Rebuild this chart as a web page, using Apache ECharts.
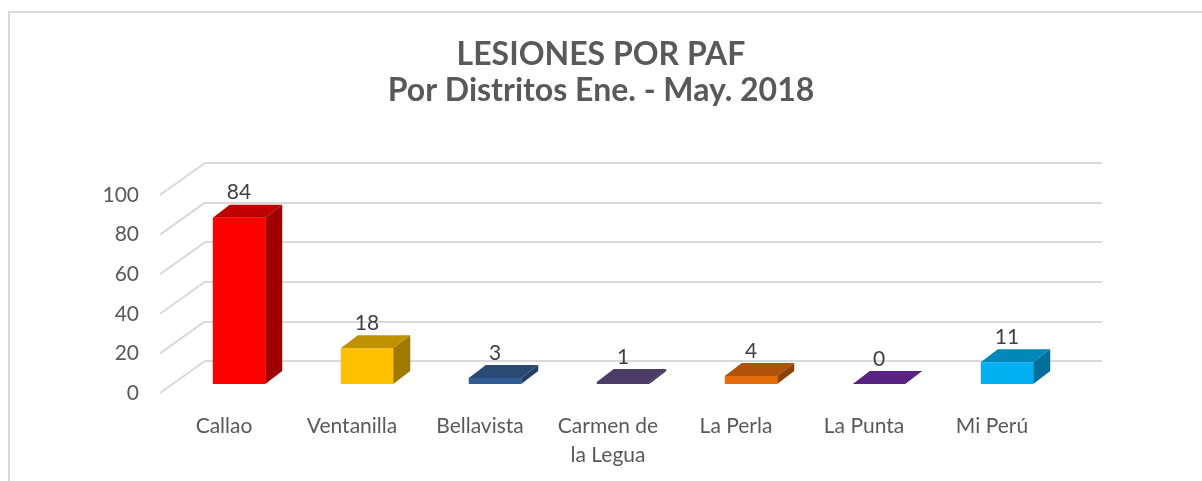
<!DOCTYPE html>
<html>
<head>
<meta charset="utf-8">
<script src="https://cdn.jsdelivr.net/npm/echarts@6/dist/echarts.min.js"></script>
<style>
  html, body { margin: 0; padding: 0; background: #fff; }
  #chart { width: 1202px; height: 481px; }
</style>
</head>
<body>
<div id="chart"></div>
<script>
// datos
const categories = ['Callao', 'Ventanilla', 'Bellavista', 'Carmen de\nla Legua', 'La Perla', 'La Punta', 'Mi Perú']
const values = [84, 18, 3, 1, 4, 0, 11]
const yTicks = [0, 20, 40, 60, 80, 100]

// colores por barra: frente, tapa, lado
const frontColors = ['#ff0000', '#ffc000', '#2f5d94', '#4b3b67', '#e46c0a', '#5a2382', '#00b0f0']
const topColors = ['#c00000', '#c09100', '#2a4a73', '#4b3b67', '#b05207', '#5a2382', '#0088ba']
const sideColors = ['#a00000', '#a07a00', '#243f63', '#3c2f53', '#8e4205', '#48196a', '#00709a']

// profundidad de la barra (perspectiva)
const DX = 17
const DY = 13
// profundidad del piso
const FX = 45
const FY = 32

const chart = echarts.init(document.getElementById('chart'))

const font = 'Lato, "Open Sans", sans-serif'

// cubo 3D para cada barra
const renderBar = (params, api) => {
  const i = api.value(0)
  const v = api.value(1)
  const top = api.coord([i, v])
  const base = api.coord([i, 0])
  const w = api.size([1, 0])[0] * 0.41
  const x0 = top[0] - w / 2
  const x1 = top[0] + w / 2
  const yt = top[1]
  const yb = base[1]
  return {
    type: 'group',
    children: [
      {
        type: 'rect',
        shape: { x: x0, y: yt, width: w, height: Math.max(yb - yt, 0) },
        style: { fill: frontColors[i] }
      },
      {
        type: 'polygon',
        shape: { points: [[x0, yt], [x1, yt], [x1 + DX, yt - DY], [x0 + DX, yt - DY]] },
        style: { fill: topColors[i] }
      },
      {
        type: 'polygon',
        shape: { points: [[x1, yt], [x1 + DX, yt - DY], [x1 + DX, yb - DY], [x1, yb]] },
        style: { fill: sideColors[i] }
      },
      {
        type: 'text',
        style: {
          x: top[0],
          y: yt - 25,
          text: String(v),
          align: 'center',
          verticalAlign: 'middle',
          fill: '#404040',
          font: '21px ' + font
        }
      }
    ]
  }
}

// lineas diagonales del piso lateral
const renderDiag = (params, api) => {
  const rect = params.coordSys
  const p = api.coord([0, api.value(0)])
  return {
    type: 'line',
    shape: { x1: rect.x, y1: p[1], x2: rect.x + FX, y2: p[1] - FY },
    style: { stroke: '#d9d9d9', lineWidth: 2 }
  }
}

const option = {
  backgroundColor: '#fff',
  animation: false,
  title: {
    text: 'LESIONES POR PAF\nPor Distritos Ene. - May. 2018',
    left: 'center',
    top: 32,
    textStyle: {
      fontFamily: font,
      fontSize: 32,
      fontWeight: 'bold',
      color: '#595959',
      lineHeight: 36
    }
  },
  graphic: [
    {
      type: 'rect',
      shape: { x: 9, y: 12, width: 1400, height: 700 },
      style: { fill: 'none', stroke: '#d9d9d9', lineWidth: 2 },
      silent: true
    }
  ],
  grid: [
    // pared del fondo
    { left: 205, top: 163, width: 897, height: 198 },
    // plano frontal (etiquetas)
    { left: 160, top: 195, width: 896, height: 198 },
    // plano de las barras
    { left: 175, top: 186, width: 896, height: 198 }
  ],
  xAxis: [
    { gridIndex: 0, type: 'category', data: categories, show: false },
    {
      gridIndex: 1,
      type: 'category',
      data: categories,
      axisLine: { show: false },
      axisTick: { show: false },
      axisLabel: {
        margin: 19,
        interval: 0,
        color: '#595959',
        fontFamily: font,
        fontSize: 21,
        lineHeight: 29
      }
    },
    { gridIndex: 2, type: 'category', data: categories, show: false }
  ],
  yAxis: [
    {
      gridIndex: 0,
      type: 'value',
      min: 0,
      max: 100,
      interval: 20,
      axisLine: { show: false },
      axisTick: { show: false },
      axisLabel: { show: false },
      splitLine: { lineStyle: { color: '#d9d9d9', width: 2 } }
    },
    {
      gridIndex: 1,
      type: 'value',
      min: 0,
      max: 100,
      interval: 20,
      axisLine: { show: false },
      axisTick: { show: false },
      splitLine: { show: false },
      axisLabel: {
        margin: 21,
        color: '#595959',
        fontFamily: font,
        fontSize: 21
      }
    },
    { gridIndex: 2, type: 'value', min: 0, max: 100, show: false, splitLine: { show: false } }
  ],
  series: [
    {
      type: 'custom',
      xAxisIndex: 1,
      yAxisIndex: 1,
      renderItem: renderDiag,
      data: yTicks.map(t => [t]),
      encode: { y: 0 },
      silent: true,
      z: 1
    },
    {
      type: 'custom',
      xAxisIndex: 2,
      yAxisIndex: 2,
      renderItem: renderBar,
      data: values.map((v, i) => [i, v]),
      encode: { x: 0, y: 1 },
      z: 3
    }
  ]
}

chart.setOption(option)
</script>
</body>
</html>
